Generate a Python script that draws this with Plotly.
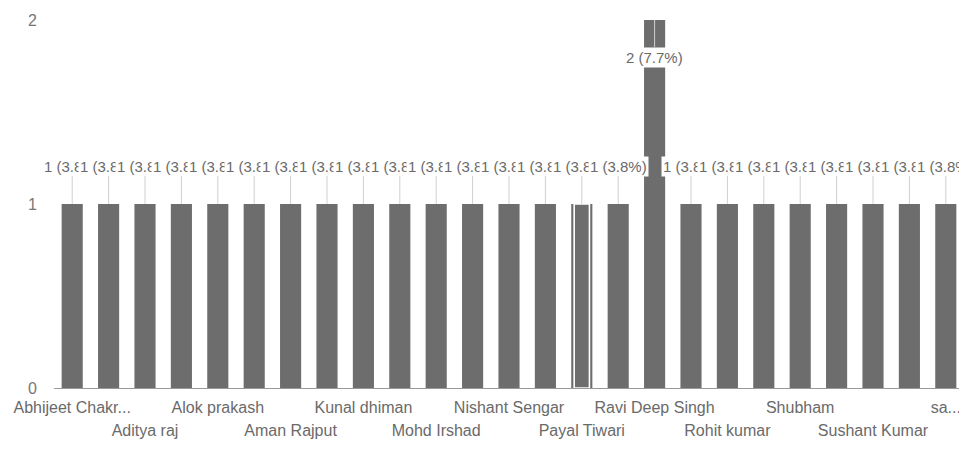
import plotly.graph_objects as go

# ---- data ----
names = ["Abhijeet Chakr...", "", "Aditya raj", "", "Alok prakash", "",
         "Aman Rajput", "", "Kunal dhiman", "", "Mohd Irshad", "",
         "Nishant Sengar", "", "Payal Tiwari", "", "Ravi Deep Singh", "",
         "Rohit kumar", "", "Shubham", "", "Sushant Kumar", "", "sa..."]
values = [1, 1, 1, 1, 1, 1, 1, 1, 1, 1, 1, 1, 1, 1, 1, 1, 2, 1,
          1, 1, 1, 1, 1, 1, 1]
highlight_index = 14
y_ticks = [0, 1, 2]

total = sum(values)
xs = list(range(len(values)))
labels = [f"{v} ({v / total * 100:.1f}%)" for v in values]

BAR = "#6d6d6d"
TXT = "#6a6a6a"
FONT = "Liberation Sans"

fig = go.Figure()
fig.add_trace(go.Bar(x=xs, y=values, width=0.58,
                     marker=dict(color=BAR, line=dict(width=0)),
                     showlegend=False, hoverinfo="skip"))
# highlighted (selected) bar: inner white outline
fig.add_trace(go.Bar(x=[xs[highlight_index]], y=[values[highlight_index]],
                     width=0.42,
                     marker=dict(color=BAR, line=dict(color="white", width=1.6)),
                     showlegend=False, hoverinfo="skip"))
# invisible carrier so the second-row label axis is drawn
fig.add_trace(go.Scatter(x=xs, y=values, xaxis="x2", yaxis="y",
                         mode="markers", marker=dict(opacity=0),
                         showlegend=False, hoverinfo="skip"))

vmax = max(values)
annotations = []
for x, v, t in zip(xs, values, labels):
    annotations.append(dict(
        x=x, y=v, xref="x", yref="y", text=t,
        showarrow=True, arrowhead=0, arrowwidth=1, arrowcolor="#d0d0d0",
        ax=0, ay=(37 if v == vmax else -38),
        bgcolor="white", borderpad=1,
        font=dict(family=FONT, size=15, color=TXT)))

top_row = [i for i in xs if names[i] and (i // 2) % 2 == 0]
bottom_row = [i for i in xs if names[i] and (i // 2) % 2 == 1]

fig.update_layout(
    width=959, height=460,
    margin=dict(l=46, r=3, t=12, b=80),
    paper_bgcolor="white", plot_bgcolor="white",
    barmode="overlay",
    annotations=annotations,
    xaxis=dict(range=[-0.5, len(xs) - 0.5], tickmode="array",
               tickvals=top_row, ticktext=[names[i] for i in top_row],
               showgrid=False, zeroline=False, showline=True,
               linecolor="#9a9a9a", linewidth=1, ticks="",
               ticklabelstandoff=5, automargin=False,
               tickfont=dict(family=FONT, size=16, color=TXT)),
    xaxis2=dict(overlaying="x", side="bottom", anchor="y",
                range=[-0.5, len(xs) - 0.5], tickmode="array",
                tickvals=bottom_row, ticktext=[names[i] for i in bottom_row],
                showgrid=False, zeroline=False, showline=False, ticks="",
                ticklabelstandoff=31, automargin=False,
                tickfont=dict(family=FONT, size=16, color=TXT)),
    yaxis=dict(range=[0, 2], tickmode="array", tickvals=y_ticks,
               showgrid=False, zeroline=False, showline=False, ticks="",
               ticklabelstandoff=16, automargin=False,
               tickfont=dict(family=FONT, size=16, color="#777777")),
)

fig.write_html("out.html")
